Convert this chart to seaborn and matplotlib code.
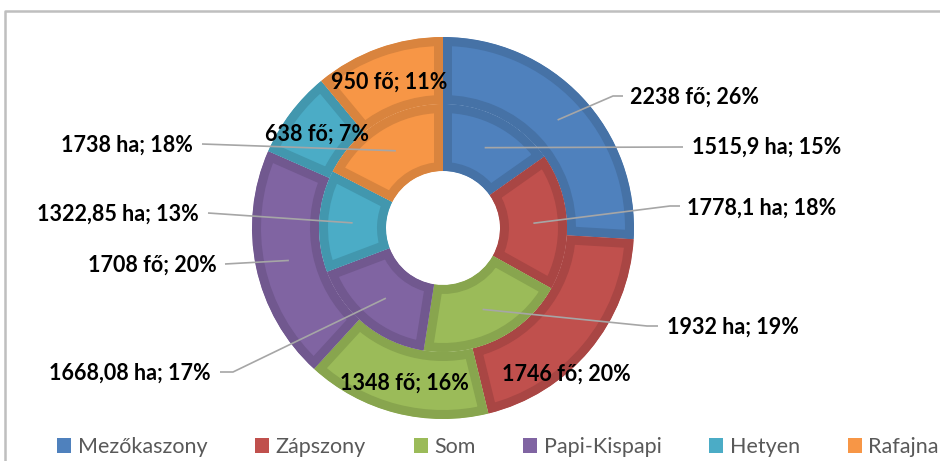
import numpy as np
import matplotlib
matplotlib.use("Agg")
import matplotlib.pyplot as plt
from matplotlib.patches import Patch
import seaborn as sns

# ---------------- data ----------------
villages = ["Mezőkaszony", "Zápszony", "Som", "Papi-Kispapi", "Hetyen", "Rafajna"]
population = [2238, 1746, 1348, 1708, 638, 950]              # fő (outer ring)
area = [1515.9, 1778.1, 1932, 1668.08, 1322.85, 1738]        # ha (inner ring)
pop_labels = ["2238 fő; 26%", "1746 fő; 20%", "1348 fő; 16%",
              "1708 fő; 20%", "638 fő; 7%", "950 fő; 11%"]
area_labels = ["1515,9 ha; 15%", "1778,1 ha; 18%", "1932 ha; 19%",
               "1668,08 ha; 17%", "1322,85 ha; 13%", "1738 ha; 18%"]
colors = ["#4F81BD", "#C0504D", "#9BBB59", "#8064A2", "#4BACC6", "#F79646"]

# ---------------- style ----------------
sns.set_theme(style="white")
plt.rcParams["font.family"] = ["Lato", "DejaVu Sans"]

W, H = 940, 461
fig = plt.figure(figsize=(W / 100, H / 100), dpi=100)
ax = fig.add_axes([0, 0, 1, 1])

def py(y):
    return H - y

CX, CY = 443, py(228)
R_OUT, R_MID, R_IN = 191, 124, 57
BORDER = 9  # px, inner dark border of each slice

def darker(c, f=0.88):
    r, g, b = matplotlib.colors.to_rgb(c)
    return (r * f, g * f, b * f)

palette = sns.color_palette(colors)

def ring(values, radius, width):
    wedges, _ = ax.pie(values, radius=radius, center=(CX, CY), startangle=90,
                       counterclock=False, colors=palette,
                       wedgeprops=dict(width=width, linewidth=0))
    for w, c in zip(wedges, palette):
        w.set_edgecolor(darker(c))
        w.set_linewidth(2 * BORDER * 72 / 100)
        w.set_joinstyle("miter")
        w.set_clip_on(True)
        w.set_clip_path(w)
    return wedges

ring(population, R_OUT, R_OUT - R_MID)
ring(area, R_MID, R_MID - R_IN)

def mid_point(values, i, r):
    frac = (np.cumsum(values)[i] - values[i] / 2) / np.sum(values)
    ang = np.deg2rad(90 - 360 * frac)
    return CX + r * np.cos(ang), CY + r * np.sin(ang)

LINE_C = "#A6A6A6"
FS = 15.5
r_outer_mid = (R_OUT + R_MID) / 2
r_inner_mid = (R_MID + R_IN) / 2

def leader(start, pts):
    xs = [start[0]] + [p[0] for p in pts]
    ys = [start[1]] + [py(p[1]) for p in pts]
    ax.plot(xs, ys, color=LINE_C, lw=1.2, solid_capstyle="butt", zorder=3)

def label(txt, x, y, ha):
    ax.text(x, py(y), txt, ha=ha, va="center", fontsize=FS, fontweight="bold",
            color="black", zorder=4)

# outer ring labels
leader(mid_point(population, 0, r_outer_mid), [(613, 96), (623, 96)])
label(pop_labels[0], 630, 97, "left")
label(pop_labels[1], 566, 374, "center")
label(pop_labels[2], 404, 383, "center")
leader(mid_point(population, 3, r_outer_mid), [(225, 264)])
label(pop_labels[3], 217, 265, "right")
label(pop_labels[4], 317, 134, "center")
label(pop_labels[5], 389, 82, "center")

# inner ring labels
leader(mid_point(area, 0, r_inner_mid), [(683, 147)])
label(area_labels[0], 692, 147, "left")
leader(mid_point(area, 1, r_inner_mid), [(670, 206), (680, 206)])
label(area_labels[1], 687, 208, "left")
leader(mid_point(area, 2, r_inner_mid), [(647, 326), (658, 326)])
label(area_labels[2], 667, 327, "left")
leader(mid_point(area, 3, r_inner_mid), [(233, 372), (220, 372)])
label(area_labels[3], 211, 373, "right")
leader(mid_point(area, 4, r_inner_mid), [(208, 213)])
label(area_labels[4], 199, 214, "right")
leader(mid_point(area, 5, r_inner_mid), [(202, 144)])
label(area_labels[5], 193, 145, "right")

# chart frame (left and top edges visible)
ax.plot([5, 5, W + 5], [py(H + 5), py(11), py(11)], color="#BFBFBF", lw=1.8,
        clip_on=False, zorder=1)

# legend
handles = [Patch(facecolor=c, edgecolor="none") for c in palette]
leg = ax.legend(handles, villages, loc="center", ncol=6,
                bbox_to_anchor=(498 / W, 1 - 447 / H), frameon=False,
                fontsize=15.5, handlelength=0.65, handleheight=0.65,
                handletextpad=0.3, columnspacing=2.22, borderaxespad=0,
                borderpad=0)
for t in leg.get_texts():
    t.set_color("#595959")

ax.set_xlim(0, W)
ax.set_ylim(0, H)
ax.set_aspect("equal")
ax.axis("off")
fig.savefig("out.png", dpi=100, facecolor="white")
